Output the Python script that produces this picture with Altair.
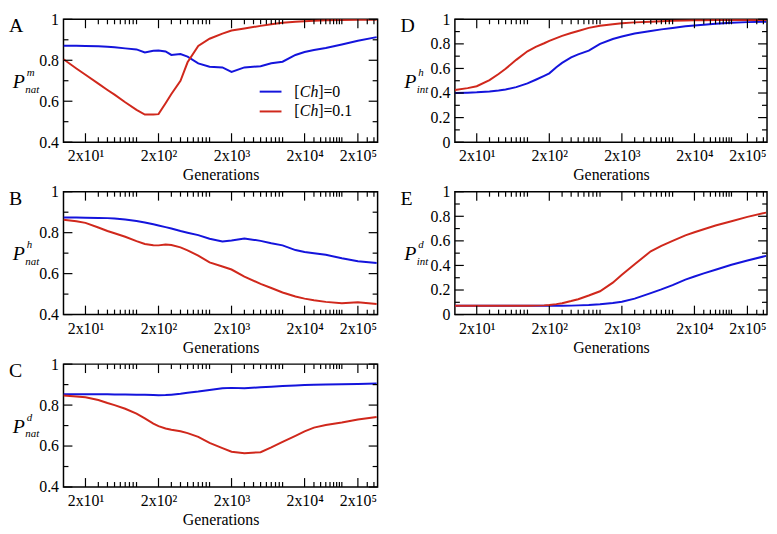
import math
import altair as alt
import pandas as pd

# ---------------- data ----------------
GEN = [10, 15, 20, 30, 40, 50, 70, 100, 130, 170, 200, 250, 300, 400, 500, 700,
       1000, 1500, 2000, 3000, 5000, 7000, 10000, 15000, 20000, 30000, 50000,
       100000, 200000, 450000]

SERIES = ["[Ch]=0", "[Ch]=0.1"]

A_BLUE = [0.871, 0.871, 0.870, 0.868, 0.866, 0.863, 0.858, 0.853, 0.838, 0.846,
          0.848, 0.843, 0.826, 0.830, 0.818, 0.785, 0.768, 0.765, 0.743, 0.765,
          0.771, 0.785, 0.793, 0.826, 0.840, 0.850, 0.860, 0.877, 0.895, 0.913]
A_RED = [0.805, 0.760, 0.729, 0.686, 0.655, 0.632, 0.595, 0.558, 0.535, 0.535,
         0.537, 0.590, 0.635, 0.700, 0.790, 0.870, 0.905, 0.930, 0.945, 0.955,
         0.968, 0.976, 0.983, 0.988, 0.990, 0.993, 0.995, 0.997, 0.998, 0.998]

B_BLUE = [0.874, 0.874, 0.873, 0.872, 0.871, 0.869, 0.864, 0.857, 0.850, 0.841,
          0.835, 0.827, 0.820, 0.808, 0.800, 0.788, 0.770, 0.757, 0.762, 0.772,
          0.760, 0.748, 0.738, 0.715, 0.706, 0.700, 0.692, 0.675, 0.660, 0.652]
B_RED = [0.863, 0.856, 0.848, 0.825, 0.808, 0.797, 0.780, 0.759, 0.745, 0.739,
         0.738, 0.742, 0.740, 0.728, 0.714, 0.688, 0.655, 0.635, 0.620, 0.585,
         0.550, 0.530, 0.508, 0.488, 0.478, 0.470, 0.462, 0.455, 0.460, 0.452]

C_BLUE = [0.853, 0.853, 0.853, 0.853, 0.853, 0.852, 0.852, 0.851, 0.850, 0.849,
          0.848, 0.849, 0.851, 0.855, 0.860, 0.866, 0.874, 0.882, 0.884, 0.882,
          0.887, 0.890, 0.893, 0.896, 0.898, 0.899, 0.900, 0.902, 0.903, 0.905]
C_RED = [0.847, 0.842, 0.838, 0.825, 0.810, 0.800, 0.782, 0.758, 0.735, 0.710,
         0.697, 0.686, 0.680, 0.672, 0.663, 0.645, 0.615, 0.590, 0.572, 0.565,
         0.570, 0.593, 0.620, 0.650, 0.672, 0.690, 0.703, 0.715, 0.730, 0.742]

D_BLUE = [0.400, 0.403, 0.406, 0.413, 0.420, 0.428, 0.448, 0.478, 0.508, 0.540,
          0.560, 0.610, 0.645, 0.690, 0.715, 0.745, 0.800, 0.840, 0.860, 0.885,
          0.905, 0.918, 0.930, 0.943, 0.950, 0.956, 0.963, 0.972, 0.977, 0.980]
D_RED = [0.424, 0.440, 0.455, 0.505, 0.555, 0.597, 0.670, 0.740, 0.775, 0.805,
         0.825, 0.847, 0.865, 0.888, 0.905, 0.930, 0.948, 0.960, 0.968, 0.975,
         0.981, 0.985, 0.988, 0.990, 0.992, 0.993, 0.994, 0.995, 0.995, 0.995]

E_BLUE = [0.072, 0.072, 0.072, 0.072, 0.072, 0.072, 0.072, 0.072, 0.071, 0.071,
          0.071, 0.071, 0.072, 0.073, 0.075, 0.078, 0.084, 0.095, 0.105, 0.130,
          0.175, 0.205, 0.240, 0.285, 0.310, 0.335, 0.365, 0.405, 0.440, 0.478]
E_RED = [0.072, 0.072, 0.072, 0.072, 0.072, 0.072, 0.072, 0.072, 0.073, 0.075,
         0.078, 0.085, 0.093, 0.110, 0.125, 0.155, 0.190, 0.260, 0.325, 0.410,
         0.515, 0.560, 0.600, 0.645, 0.670, 0.695, 0.725, 0.760, 0.795, 0.830]

X_MAJOR = [20, 200, 2000, 20000, 200000]
X_LABELS = ["2x10\u00b9", "2x10\u00b2", "2x10\u00b3", "2x10\u2074", "2x10\u2075"]
X_MINOR = [30, 40, 50, 60, 70, 80, 90, 100,
           300, 400, 500, 600, 700, 800, 900, 1000,
           3000, 4000, 5000, 6000, 7000, 8000, 9000, 10000,
           30000, 40000, 50000, 60000, 70000, 80000, 90000, 100000,
           300000, 400000]
Y_NAT_MAJOR = [0.4, 0.6, 0.8, 1.0]
Y_NAT_MINOR = [0.5, 0.7, 0.9]
Y_INT_MAJOR = [0.0, 0.2, 0.4, 0.6, 0.8, 1.0]
Y_INT_MINOR = [0.1, 0.3, 0.5, 0.7, 0.9]

# ---------------- styling ----------------
BLUE = "#1414dc"
RED = "#d0281c"
FONT = "Liberation Serif"
W_LEFT, W_RIGHT, H = 317, 315, 124

# the last decade of the original axis is drawn compressed
SPLIT = 20000
SQUEEZE = 0.73
POS = (f"datum.g <= {SPLIT} ? log(datum.g) / LN10 : "
       f"log({SPLIT}) / LN10 + {SQUEEZE} * (log(datum.g) / LN10 - log({SPLIT}) / LN10)")


def to_pos(g):
    lg = math.log10(g)
    s = math.log10(SPLIT)
    return lg if g <= SPLIT else s + SQUEEZE * (lg - s)


X_DOMAIN = [1.0, to_pos(SPLIT) + 1.0]
LABEL_ARR = "[" + ",".join(f"'{s}'" for s in X_LABELS) + "]"


def text_layer(t, x, y, size, italic=True, align="left", baseline="middle"):
    return alt.Chart(pd.DataFrame({"t": [t]})).mark_text(
        font=FONT, fontSize=size, fontStyle="italic" if italic else "normal",
        align=align, baseline=baseline, color="black"
    ).encode(text="t:N", x=alt.value(x), y=alt.value(y))


def panel(letter, blue, red, sup, sub, y_major, y_minor, W, legend=False):
    n = len(GEN)
    df = pd.DataFrame({
        "g": GEN * 2,
        "v": blue + red,
        "series": [SERIES[0]] * n + [SERIES[1]] * n,
    })
    xscale = alt.Scale(domain=X_DOMAIN, nice=False, zero=False)
    yscale = alt.Scale(domain=[y_major[0], 1.0], nice=False, zero=False)
    xaxis = alt.Axis(
        values=[to_pos(g) for g in X_MAJOR],
        labelExpr=f"{LABEL_ARR}[round(datum.value) - 1]",
        title="Generations", ticks=False, domain=False, grid=False,
        labelFont=FONT, labelFontSize=16, labelColor="black", labelPadding=6,
        labelFlush=False, labelOverlap=False,
        titleFont=FONT, titleFontSize=16, titleFontWeight="normal",
        titleColor="black", titlePadding=3,
    )
    yaxis = alt.Axis(
        values=y_major,
        labelExpr="datum.value == 0 ? '0' : datum.value == 1 ? '1' : format(datum.value, '.1f')",
        title=None, ticks=False, domain=False, grid=False,
        labelFont=FONT, labelFontSize=16, labelColor="black", labelPadding=5,
        labelFlush=False, labelOverlap=False,
    )
    xe = alt.X("pos:Q", scale=xscale, axis=xaxis)
    ye = alt.Y("v:Q", scale=yscale, axis=yaxis)

    lines = alt.Chart(df).transform_calculate(pos=POS).mark_line(
        strokeWidth=2, clip=True
    ).encode(
        x=xe,
        y=ye,
        color=alt.Color("series:N", scale=alt.Scale(domain=SERIES, range=[BLUE, RED]),
                        legend=None),
    )
    layers = [lines]

    def xticks(vals, L):
        b = alt.Chart(pd.DataFrame({"g": vals})).transform_calculate(pos=POS).mark_rule(
            color="black", strokeWidth=1.2)
        return [b.encode(x=xe, y=alt.value(H), y2=alt.value(H - L)),
                b.encode(x=xe, y=alt.value(0), y2=alt.value(L))]

    def yticks(vals, L):
        b = alt.Chart(pd.DataFrame({"v": vals})).mark_rule(color="black", strokeWidth=1.2)
        return [b.encode(y=ye, x=alt.value(0), x2=alt.value(L)),
                b.encode(y=ye, x=alt.value(W), x2=alt.value(W - L))]

    layers += xticks(X_MAJOR, 9) + xticks(X_MINOR, 5)
    layers += yticks(y_major, 9) + yticks(y_minor, 5)

    # panel letter and y title  P^sup_sub
    layers.append(text_layer(letter, -55, 13, 20, italic=False, baseline="alphabetic"))
    layers.append(text_layer("P", -45, H / 2 + 1, 20, align="center"))
    layers.append(text_layer(sup, -37, H / 2 - 8, 11))
    layers.append(text_layer(sub, -38.5, H / 2 + 9, 11))

    if legend:
        for i, (col, yy) in enumerate([(BLUE, 73), (RED, 93)]):
            layers.append(
                alt.Chart(pd.DataFrame({"s": [SERIES[i]]})).mark_rule(
                    color=col, strokeWidth=2
                ).encode(x=alt.value(198), x2=alt.value(220), y=alt.value(yy))
            )
            tail = SERIES[i].split("]")[1]
            layers.append(text_layer("[", 233, yy, 16, italic=False))
            layers.append(text_layer("Ch", 238.5, yy, 16, italic=True))
            layers.append(text_layer("]" + tail, 257, yy, 16, italic=False))

    return alt.layer(*layers).properties(width=W, height=H)


pA = panel("A", A_BLUE, A_RED, "m", "nat", Y_NAT_MAJOR, Y_NAT_MINOR, W_LEFT, legend=True)
pB = panel("B", B_BLUE, B_RED, "h", "nat", Y_NAT_MAJOR, Y_NAT_MINOR, W_LEFT)
pC = panel("C", C_BLUE, C_RED, "d", "nat", Y_NAT_MAJOR, Y_NAT_MINOR, W_LEFT)
pD = panel("D", D_BLUE, D_RED, "h", "int", Y_INT_MAJOR, Y_INT_MINOR, W_RIGHT)
pE = panel("E", E_BLUE, E_RED, "d", "int", Y_INT_MAJOR, Y_INT_MINOR, W_RIGHT)

chart = alt.concat(
    pA, pD, pB, pE, pC,
    columns=2,
    spacing={"row": 50, "column": 78},
    bounds="flush",
).properties(padding=0, background="white").configure_view(
    stroke="black", strokeWidth=1.5
)

chart.save("out.html", embed_options={"renderer": "svg", "actions": False})
